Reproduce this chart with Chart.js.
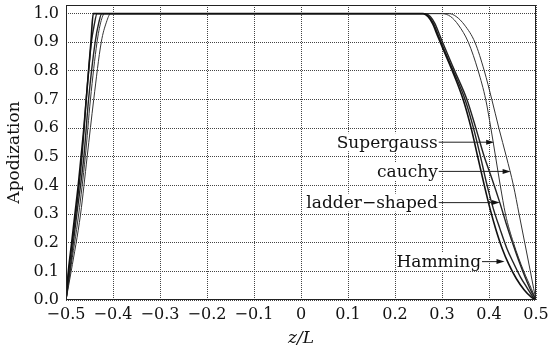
<!DOCTYPE html>
<html>
<head>
<meta charset="utf-8">
<script src="https://cdn.jsdelivr.net/npm/chart.js@4"></script>
<style>
  body { margin: 0; background: #fff; }
  #wrap { width: 550px; height: 353px; }
</style>
</head>
<body>
<div id="wrap"><canvas id="grafico"></canvas></div>
<script>
// tick labels
const xTickValues = [-0.5, -0.4, -0.3, -0.2, -0.1, 0, 0.1, 0.2, 0.3, 0.4, 0.5];
const xTickLabels = ['−0.5', '−0.4', '−0.3', '−0.2', '−0.1', '0', '0.1', '0.2', '0.3', '0.4', '0.5'];
const yTickValues = [0, 0.1, 0.2, 0.3, 0.4, 0.5, 0.6, 0.7, 0.8, 0.9, 1.0];
const yTickLabels = ['0.0', '0.1', '0.2', '0.3', '0.4', '0.5', '0.6', '0.7', '0.8', '0.9', '1.0'];

// curves (z/L, apodization)
const hammingZ = [-0.5, -0.495, -0.488, -0.481, -0.474, -0.468, -0.462, -0.457, -0.452, -0.447, -0.442,
  0.26, 0.27, 0.28, 0.29, 0.30, 0.322, 0.345, 0.362, 0.376, 0.39, 0.402, 0.414, 0.428, 0.442, 0.458, 0.475, 0.49, 0.5];
const hammingY = [0, 0.1, 0.2, 0.3, 0.4, 0.5, 0.6, 0.7, 0.8, 0.9, 1,
  1, 0.99, 0.965, 0.925, 0.885, 0.8, 0.7, 0.6, 0.5, 0.4, 0.32, 0.25, 0.18, 0.125, 0.075, 0.035, 0.01, 0];

const otherZ = [-0.5, -0.494, -0.479, -0.466, -0.457, -0.446, -0.44, -0.434,
  0.262, 0.272, 0.282, 0.292, 0.302, 0.324, 0.349, 0.367, 0.382, 0.396, 0.409, 0.423, 0.438, 0.452, 0.467, 0.482, 0.493, 0.5];
const otherY = [0, 0.1, 0.3, 0.5, 0.7, 0.9, 0.96, 1,
  1, 0.99, 0.965, 0.925, 0.885, 0.8, 0.7, 0.6, 0.5, 0.4, 0.32, 0.25, 0.18, 0.13, 0.08, 0.04, 0.012, 0];

const ladderZ = [-0.5, -0.492, -0.477, -0.462, -0.452, -0.438, -0.43, -0.424,
  0.265, 0.275, 0.285, 0.295, 0.305, 0.327, 0.353, 0.372, 0.39, 0.407, 0.423, 0.436, 0.45, 0.465, 0.478, 0.49, 0.5];
const ladderY = [0, 0.1, 0.3, 0.5, 0.7, 0.9, 0.97, 1,
  1, 0.99, 0.965, 0.925, 0.885, 0.8, 0.7, 0.6, 0.5, 0.42, 0.34, 0.27, 0.2, 0.13, 0.075, 0.03, 0];

const supergaussZ = [-0.5, -0.491, -0.473, -0.459, -0.448, -0.434, -0.426, -0.418,
  0.30, 0.318, 0.335, 0.356, 0.377, 0.393, 0.404, 0.414, 0.424, 0.435, 0.452, 0.474, 0.49, 0.5];
const supergaussY = [0, 0.1, 0.3, 0.5, 0.7, 0.9, 0.97, 1,
  1, 0.99, 0.96, 0.9, 0.8, 0.7, 0.6, 0.5, 0.4, 0.3, 0.2, 0.1, 0.04, 0];

const cauchyZ = [-0.5, -0.489, -0.469, -0.455, -0.441, -0.425, -0.414, -0.405,
  0.315, 0.33, 0.348, 0.37, 0.39, 0.406, 0.421, 0.437, 0.452, 0.464, 0.476, 0.488, 0.495, 0.5];
const cauchyY = [0, 0.1, 0.3, 0.5, 0.7, 0.9, 0.97, 1,
  1, 0.99, 0.96, 0.9, 0.8, 0.7, 0.6, 0.5, 0.4, 0.3, 0.2, 0.1, 0.04, 0];

// labels with arrows: text end (z), arrow tip (z, y)
const rotulos = [
  { texto: 'Supergauss', fimTexto: 0.291, z: 0.411, y: 0.551 },
  { texto: 'cauchy', fimTexto: 0.291, z: 0.446, y: 0.449 },
  { texto: 'ladder−shaped', fimTexto: 0.291, z: 0.423, y: 0.34 },
  { texto: 'Hamming', fimTexto: 0.383, z: 0.433, y: 0.134 }
];

function montaPontos(zs, ys) {
  return zs.map((z, i) => ({ x: z, y: ys[i] }));
}

function serie(nome, zs, ys, largura, cor) {
  return {
    label: nome,
    data: montaPontos(zs, ys),
    borderColor: cor,
    borderWidth: largura,
    pointRadius: 0,
    fill: false,
    cubicInterpolationMode: 'monotone'
  };
}

const fonte = 'DejaVu Serif';

function semPadding(s) {
  s.paddingLeft = 0;
  s.paddingRight = 0;
  s.paddingTop = 0;
  s.paddingBottom = 0;
}

const moldura = {
  id: 'moldura',
  afterDatasetsDraw(chart) {
    const { ctx, chartArea: a, scales } = chart;
    ctx.save();
    ctx.strokeStyle = '#222';
    ctx.lineWidth = 1;
    ctx.strokeRect(a.left + 0.5, a.top + 0.5, a.right - a.left - 1, a.bottom - a.top - 1);

    ctx.font = '17px "' + fonte + '"';
    ctx.textAlign = 'right';
    ctx.textBaseline = 'middle';
    rotulos.forEach(r => {
      const xt = scales.x.getPixelForValue(r.fimTexto);
      const xp = scales.x.getPixelForValue(r.z);
      const yp = scales.y.getPixelForValue(r.y);
      // white box behind the text so grid lines do not cross it
      const w = ctx.measureText(r.texto).width;
      ctx.fillStyle = '#fff';
      ctx.fillRect(xt - w, yp - 9, w, 18);
      ctx.fillStyle = '#111';
      ctx.fillText(r.texto, xt, yp + 1);
      ctx.beginPath();
      ctx.moveTo(xt + 1, yp);
      ctx.lineTo(xp - 6, yp);
      ctx.stroke();
      ctx.beginPath();
      ctx.moveTo(xp, yp);
      ctx.lineTo(xp - 8, yp - 2.5);
      ctx.lineTo(xp - 8, yp + 2.5);
      ctx.closePath();
      ctx.fill();
    });
    ctx.restore();
  }
};

const grafico = document.getElementById('grafico');

new Chart(grafico, {
  type: 'line',
  data: {
    datasets: [
      serie('Hamming', hammingZ, hammingY, 1.6, '#111'),
      serie('', otherZ, otherY, 1.4, '#222'),
      serie('ladder-shaped', ladderZ, ladderY, 1.4, '#222'),
      serie('Supergauss', supergaussZ, supergaussY, 1, '#333'),
      serie('cauchy', cauchyZ, cauchyY, 1, '#333')
    ]
  },
  options: {
    responsive: true,
    maintainAspectRatio: false,
    animation: false,
    layout: { padding: { top: 5, right: 14, left: 0, bottom: 0 } },
    plugins: { legend: { display: false }, tooltip: { enabled: false } },
    scales: {
      x: {
        type: 'linear',
        min: -0.5,
        max: 0.5,
        afterBuildTicks: s => { s.ticks = xTickValues.map(v => ({ value: v })); },
        afterFit: s => { s.height = 53; semPadding(s); },
        ticks: {
          callback: (v, i) => xTickLabels[i],
          font: { family: fonte, size: 16 },
          color: '#111',
          padding: 5,
          maxRotation: 0,
          autoSkip: false
        },
        grid: { color: '#444', lineWidth: 1, drawTicks: false },
        border: { display: false, dash: [1, 1] },
        title: {
          display: true,
          text: 'z/L',
          font: { family: fonte, size: 17, style: 'italic' },
          color: '#111',
          padding: { top: 0, bottom: 4 }
        }
      },
      y: {
        min: 0,
        max: 1.03,
        afterBuildTicks: s => { s.ticks = yTickValues.map(v => ({ value: v })); },
        afterFit: s => { s.width = 66; semPadding(s); },
        ticks: {
          callback: (v, i) => yTickLabels[i],
          font: { family: fonte, size: 16 },
          color: '#111',
          padding: 7,
          autoSkip: false
        },
        grid: { color: '#444', lineWidth: 1, drawTicks: false },
        border: { display: false, dash: [1, 1] },
        title: {
          display: true,
          text: 'Apodization',
          font: { family: fonte, size: 17 },
          color: '#111',
          padding: { top: 4, bottom: 0 }
        }
      }
    }
  },
  plugins: [moldura]
});
</script>
</body>
</html>
